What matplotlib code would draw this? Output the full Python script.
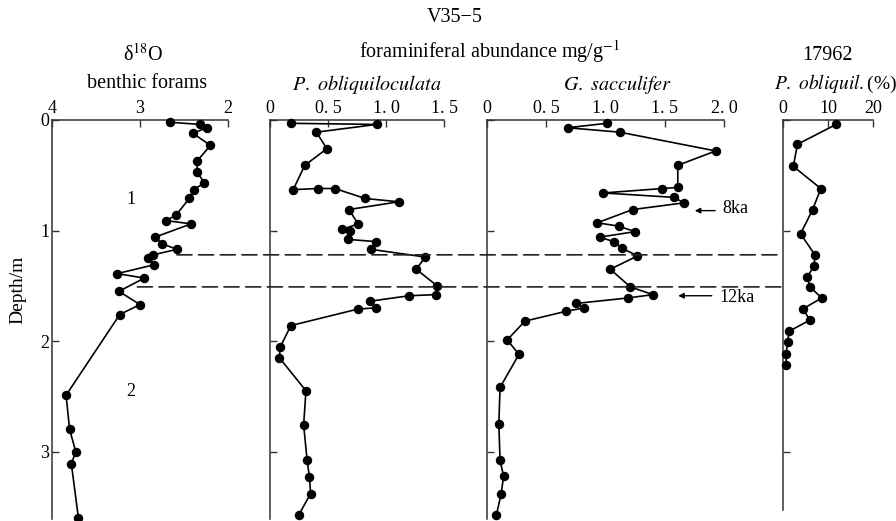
import matplotlib
matplotlib.use("Agg")
import matplotlib.pyplot as plt
from matplotlib.patches import ConnectionPatch

plt.rcParams['font.family'] = ['Liberation Serif', 'DejaVu Serif']
plt.rcParams['mathtext.fontset'] = 'stix'

# ----------------------------
# Data
# ----------------------------
# delta 18O, benthic forams
d18o_depth = [0.02, 0.04, 0.07, 0.12, 0.23, 0.37, 0.47, 0.57, 0.63, 0.71, 0.86, 0.91,
              0.94, 1.06, 1.12, 1.17, 1.22, 1.25, 1.31, 1.39, 1.43, 1.55, 1.67, 1.76,
              2.49, 2.80, 3.00, 3.11, 3.60]
d18o_val = [2.66, 2.32, 2.24, 2.40, 2.20, 2.35, 2.35, 2.27, 2.39, 2.44, 2.59, 2.70,
            2.42, 2.83, 2.75, 2.58, 2.85, 2.91, 2.84, 3.26, 2.95, 3.24, 3.00, 3.23,
            3.84, 3.80, 3.73, 3.78, 3.70]

# P. obliquiloculata abundance
pobl_depth = [0.03, 0.04, 0.11, 0.26, 0.41, 0.63, 0.62, 0.62, 0.71, 0.74, 0.81, 0.94,
              0.99, 1.00, 1.08, 1.10, 1.17, 1.24, 1.35, 1.50, 1.58, 1.59, 1.64, 1.70,
              1.71, 1.86, 2.05, 2.15, 2.45, 2.76, 3.08, 3.23, 3.38, 3.57]
pobl_val = [0.18, 0.92, 0.40, 0.49, 0.30, 0.20, 0.41, 0.56, 0.82, 1.11, 0.68, 0.76,
            0.62, 0.69, 0.67, 0.91, 0.87, 1.34, 1.26, 1.44, 1.43, 1.20, 0.86, 0.91,
            0.76, 0.18, 0.09, 0.08, 0.31, 0.29, 0.32, 0.34, 0.35, 0.25]

# G. sacculifer abundance
gsac_depth = [0.03, 0.07, 0.11, 0.28, 0.41, 0.61, 0.62, 0.66, 0.70, 0.75, 0.81, 0.93,
              0.96, 1.01, 1.06, 1.10, 1.16, 1.23, 1.35, 1.51, 1.58, 1.61, 1.66, 1.70,
              1.73, 1.82, 1.99, 2.12, 2.42, 2.75, 3.08, 3.22, 3.38, 3.57]
gsac_val = [1.01, 0.68, 1.12, 1.93, 1.61, 1.61, 1.48, 0.98, 1.58, 1.66, 1.23, 0.93,
            1.11, 1.25, 0.95, 1.07, 1.14, 1.27, 1.04, 1.21, 1.40, 1.19, 0.75, 0.82,
            0.67, 0.32, 0.17, 0.27, 0.11, 0.10, 0.11, 0.14, 0.12, 0.08]

# core 17962, P. obliquil. (%)
p17962_depth = [0.04, 0.22, 0.42, 0.62, 0.81, 1.03, 1.22, 1.32, 1.42, 1.51, 1.61,
                1.71, 1.81, 1.91, 2.01, 2.12, 2.22]
p17962_val = [11.8, 3.2, 2.3, 8.4, 6.6, 3.9, 7.1, 6.9, 5.4, 6.0, 8.6, 4.4, 6.0,
              1.4, 1.0, 0.7, 0.7]

# boundaries (dashed lines) and zones
bound_depth = [1.22, 1.51]
bound_start = [2.58, 3.03]   # x (d18O) where the dashed lines start
zone_labels = ["1", "2"]
zone_depth = [0.72, 2.46]

# ----------------------------
# Figure layout
# ----------------------------
W, H = 896, 521
fig = plt.figure(figsize=(W / 100, H / 100), dpi=100)

def px_axes(x0, x1):
    return [x0 / W, (H - 519) / H, (x1 - x0) / W, 399 / H]

ax1 = fig.add_axes(px_axes(52, 228))
ax2 = fig.add_axes(px_axes(270, 444))
ax3 = fig.add_axes(px_axes(487, 724))
ax4 = fig.add_axes(px_axes(783, 873))

panels = [
    (ax1, d18o_val, d18o_depth, (4, 2), [4, 3, 2], ["4", "3", "2"]),
    (ax2, pobl_val, pobl_depth, (0, 1.5), [0, 0.5, 1.0, 1.5], ["0", "0. 5", "1. 0", "1. 5"]),
    (ax3, gsac_val, gsac_depth, (0, 2.0), [0, 0.5, 1.0, 1.5, 2.0], ["0", "0. 5", "1. 0", "1. 5", "2. 0"]),
    (ax4, p17962_val, p17962_depth, (0, 20), [0, 10, 20], ["0", "10", "20"]),
]

for ax, xv, yv, xlim, xt, xtl in panels:
    ax.plot(xv, yv, color='black', lw=1.2, marker='o', ms=5.8, clip_on=False, zorder=3)
    ax.set_xlim(*xlim)
    ax.set_ylim(3.61, 0)
    ax.spines['right'].set_visible(False)
    ax.spines['bottom'].set_visible(False)
    for s in ['left', 'top']:
        ax.spines[s].set_linewidth(1.1)
        ax.spines[s].set_color('#333333')
    ax.xaxis.tick_top()
    ax.set_xticks(xt)
    ax.set_xticklabels(xtl)
    ax.set_yticks([0, 1, 2, 3])
    ax.tick_params(direction='in', length=5, width=1.0, color='#333333',
                   labelsize=13, pad=2)
    ax.patch.set_alpha(0)
    if ax is not ax1:
        ax.set_yticklabels([])

ax4.spines['left'].set_bounds(0, 3.53)
ax1.set_ylabel("Depth/m", fontsize=14)
ax1.yaxis.set_label_coords(-0.145, 0.575)

# zone labels
for lab, dep in zip(zone_labels, zone_depth):
    ax1.text(3.1, dep, lab, fontsize=13, ha='center', va='center')

# dashed boundary lines across the panels
for dep, x0 in zip(bound_depth, bound_start):
    con = ConnectionPatch(xyA=(x0, dep), coordsA=ax1.transData,
                          xyB=(0, dep), coordsB=ax4.transData,
                          color='#222222', lw=1.2, linestyle=(0, (9, 4)), zorder=1)
    fig.add_artist(con)

# age markers
ax3.annotate("", xy=(1.73, 0.82), xytext=(1.95, 0.82),
             arrowprops=dict(arrowstyle='-|>', color='black', lw=1.0,
                             mutation_scale=8), annotation_clip=False)
ax3.text(1.99, 0.80, "8ka", fontsize=13, ha='left', va='center')
ax3.annotate("", xy=(1.59, 1.59), xytext=(1.92, 1.59),
             arrowprops=dict(arrowstyle='-|>', color='black', lw=1.0,
                             mutation_scale=8), annotation_clip=False)
ax3.text(1.96, 1.61, "12ka", fontsize=13, ha='left', va='center')

# titles
def ftext(x, y, s, **kw):
    fig.text(x / W, 1 - y / H, s, ha='center', va='center', **kw)

ftext(455, 18, "V35\u22125", fontsize=14.5)
ftext(490, 52, r"foraminiferal abundance mg/g$^{-1}$", fontsize=14.5)
ftext(143, 55, "\u03b4$^{18}$O", fontsize=14.5)
ftext(147, 84, "benthic forams", fontsize=14.5)
ftext(367, 84, r"$\mathit{P.\ obliquiloculata}$", fontsize=14.5)
ftext(618, 84, r"$\mathit{G.\ sacculifer}$", fontsize=14.5)
ftext(827, 55, "17962", fontsize=14.5)
ftext(836, 84, r"$\mathit{P.\ obliquil.}$(%)", fontsize=14)

fig.savefig("out.png", dpi=100)
